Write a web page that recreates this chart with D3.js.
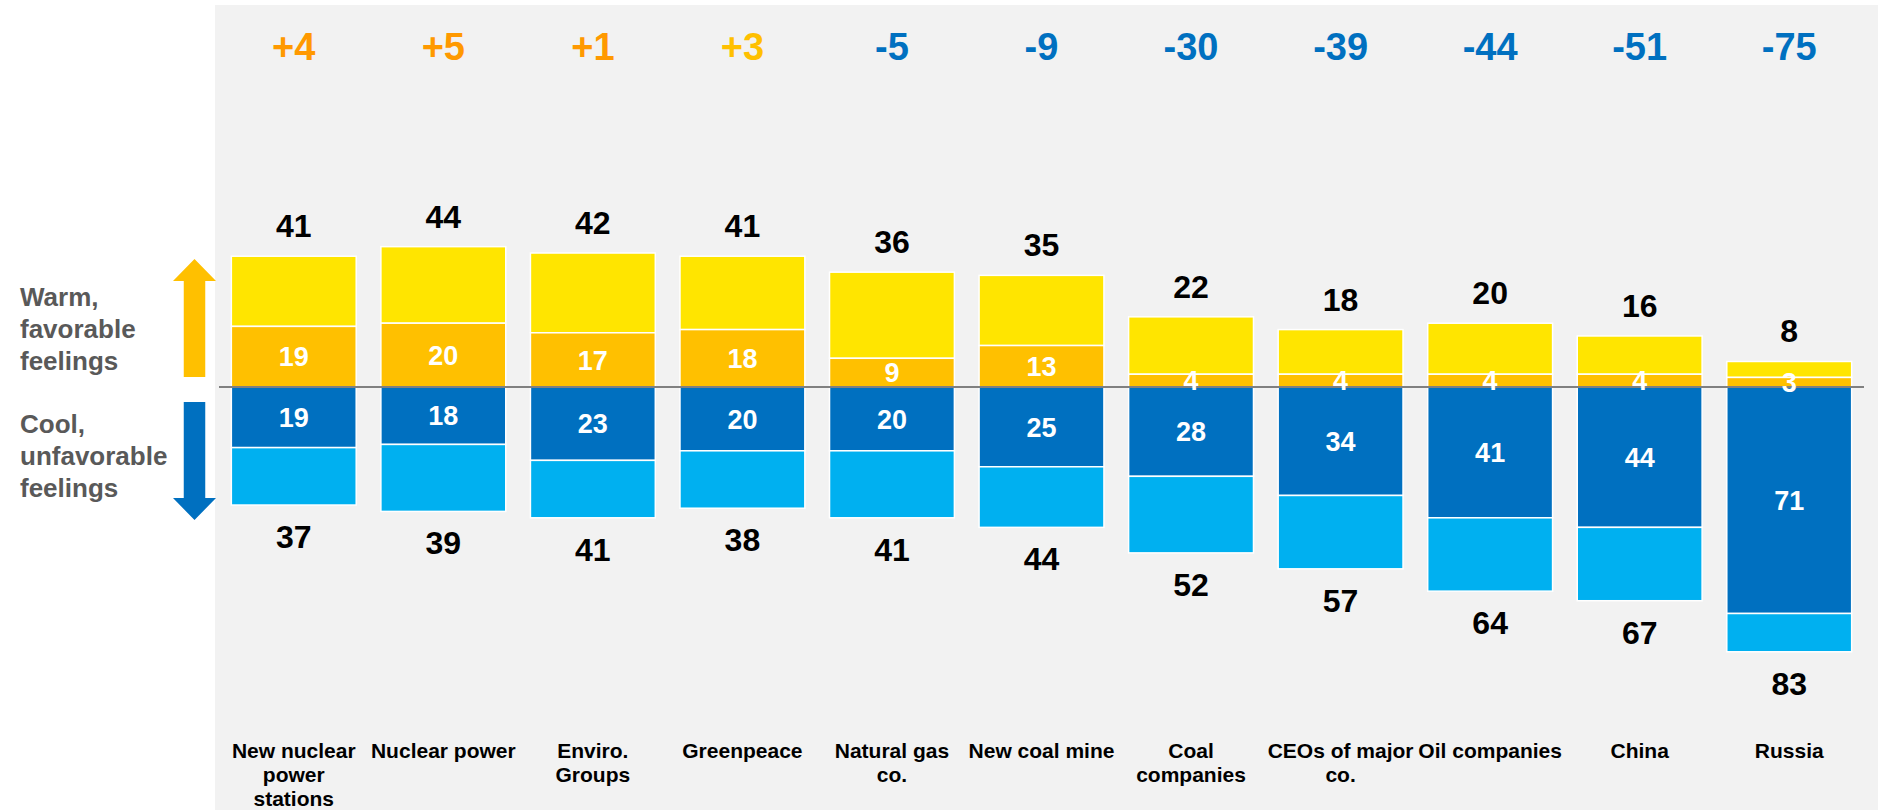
<!DOCTYPE html>
<html>
<head>
<meta charset="utf-8">
<script src="https://cdn.jsdelivr.net/npm/d3@7"></script>
<style>
  html, body { margin: 0; padding: 0; background: #ffffff; }
  svg { display: block; }
  text { font-family: "Liberation Sans", Arial, sans-serif; font-weight: bold; }
</style>
</head>
<body>
<svg id="chart" width="1878" height="810"></svg>
<script>
// ---- Data ----
const categories = ["New nuclear power stations", "Nuclear power", "Enviro. Groups", "Greenpeace",
  "Natural gas co.", "New coal mine", "Coal companies", "CEOs of major co.", "Oil companies", "China", "Russia"];
const warmTotal = [41, 44, 42, 41, 36, 35, 22, 18, 20, 16, 8];     // total warm (yellow + orange)
const warmInner = [19, 20, 17, 18, 9, 13, 4, 4, 4, 4, 3];          // orange segment next to axis
const coolTotal = [37, 39, 41, 38, 41, 44, 52, 57, 64, 67, 83];    // total cool (dark + light blue)
const coolInner = [19, 18, 23, 20, 20, 25, 28, 34, 41, 44, 71];    // dark blue segment next to axis
const netValues = [4, 5, 1, 3, -5, -9, -30, -39, -44, -51, -75];
const netLabels = ["+4", "+5", "+1", "+3", "-5", "-9", "-30", "-39", "-44", "-51", "-75"];
const sideLabelsWarm = ["Warm,", "favorable", "feelings"];
const sideLabelsCool = ["Cool,", "unfavorable", "feelings"];

// ---- Styles ----
const C = {
  yellow: "#FFE500", orange: "#FFC000", dark: "#0070C0", light: "#00B0F0",
  netPos: "#FF9900", netPosAlt: "#FFC000", netNeg: "#0070C0",
  bg: "#F2F2F2", axis: "#808080", side: "#595959"
};
const netColor = (v, i) => v < 0 ? C.netNeg : (i === 3 ? C.netPosAlt : C.netPos);

const svg = d3.select("#chart");

const x = d3.scaleBand().domain(categories).range([219, 1864]).paddingInner(0.165).paddingOuter(0.0825);
const y = d3.scaleLinear().domain([-83, 44]).range([387 + 83 * 3.19, 387 - 44 * 3.19]);

// background panel
svg.append("rect").attr("x", 215).attr("y", 5).attr("width", 1878 - 215).attr("height", 810 - 5).attr("fill", C.bg);

const rows = categories.map((c, i) => ({
  c, i, wt: warmTotal[i], wi: warmInner[i], ct: coolTotal[i], ci: coolInner[i], net: netValues[i], netLabel: netLabels[i]
}));

const segs = [];
rows.forEach(r => {
  segs.push({ c: r.c, y0: r.wi, y1: r.wt, fill: C.yellow });
  segs.push({ c: r.c, y0: 0, y1: r.wi, fill: C.orange });
  segs.push({ c: r.c, y0: -r.ci, y1: 0, fill: C.dark });
  segs.push({ c: r.c, y0: -r.ct, y1: -r.ci, fill: C.light });
});

svg.append("g").selectAll("rect").data(segs).join("rect")
  .attr("x", d => x(d.c))
  .attr("width", x.bandwidth())
  .attr("y", d => y(d.y1))
  .attr("height", d => y(d.y0) - y(d.y1))
  .attr("fill", d => d.fill)
  .attr("stroke", "#ffffff")
  .attr("stroke-width", 1.5);

// zero axis line
svg.append("line").attr("x1", 219).attr("x2", 1864).attr("y1", y(0)).attr("y2", y(0))
  .attr("stroke", C.axis).attr("stroke-width", 2);

const cx = d => x(d.c) + x.bandwidth() / 2;

// inner labels
const gIn = svg.append("g").attr("fill", "#ffffff").attr("font-size", 27).attr("text-anchor", "middle");
gIn.selectAll("text.wi").data(rows).join("text").attr("class", "wi")
  .attr("x", cx).attr("y", d => (y(0) + y(d.wi)) / 2).attr("dy", "0.36em").text(d => d.wi);
gIn.selectAll("text.ci").data(rows).join("text").attr("class", "ci")
  .attr("x", cx).attr("y", d => (y(0) + y(-d.ci)) / 2).attr("dy", "0.36em").text(d => d.ci);

// totals
const gTot = svg.append("g").attr("fill", "#000000").attr("font-size", 32).attr("text-anchor", "middle");
gTot.selectAll("text.wt").data(rows).join("text").attr("class", "wt")
  .attr("x", cx).attr("y", d => y(d.wt) - 19).text(d => d.wt);
gTot.selectAll("text.ct").data(rows).join("text").attr("class", "ct")
  .attr("x", cx).attr("y", d => y(-d.ct) + 43).text(d => d.ct);

// net labels
svg.append("g").attr("font-size", 38).attr("text-anchor", "middle")
  .selectAll("text").data(rows).join("text")
  .attr("x", cx).attr("y", 60).attr("fill", d => netColor(d.net, d.i)).text(d => d.netLabel);

// category labels (wrapped)
const gCat = svg.append("g").attr("font-size", 21).attr("text-anchor", "middle").attr("fill", "#000");
const catText = gCat.selectAll("text").data(rows).join("text").attr("x", cx).attr("y", 758);
function wrap(sel, width) {
  sel.each(function(d) {
    const t = d3.select(this);
    const words = d.c.split(" ");
    let line = [];
    let tspan = t.append("tspan").attr("x", cx(d)).attr("dy", 0);
    words.forEach(w => {
      line.push(w);
      tspan.text(line.join(" "));
      if (tspan.node().getComputedTextLength() > width && line.length > 1) {
        line.pop();
        tspan.text(line.join(" "));
        line = [w];
        tspan = t.append("tspan").attr("x", cx(d)).attr("dy", 24).text(w);
      }
    });
  });
}
catText.call(wrap, 148);

// side labels
const gSide = svg.append("g").attr("font-size", 26).attr("fill", C.side);
gSide.selectAll("text.w").data(sideLabelsWarm).join("text").attr("class", "w")
  .attr("x", 20).attr("y", (d, i) => 306 + i * 32).text(d => d);
gSide.selectAll("text.c").data(sideLabelsCool).join("text").attr("class", "c")
  .attr("x", 20).attr("y", (d, i) => 433 + i * 32).text(d => d);

// arrows
const ax = 194.5, hw = 21.5, sw = 10.75;
svg.append("path").attr("fill", C.orange)
  .attr("d", `M${ax},259 L${ax + hw},281 L${ax + sw},281 L${ax + sw},377 L${ax - sw},377 L${ax - sw},281 L${ax - hw},281 Z`);
svg.append("path").attr("fill", C.dark)
  .attr("d", `M${ax},520 L${ax + hw},498 L${ax + sw},498 L${ax + sw},402 L${ax - sw},402 L${ax - sw},498 L${ax - hw},498 Z`);
</script>
</body>
</html>
